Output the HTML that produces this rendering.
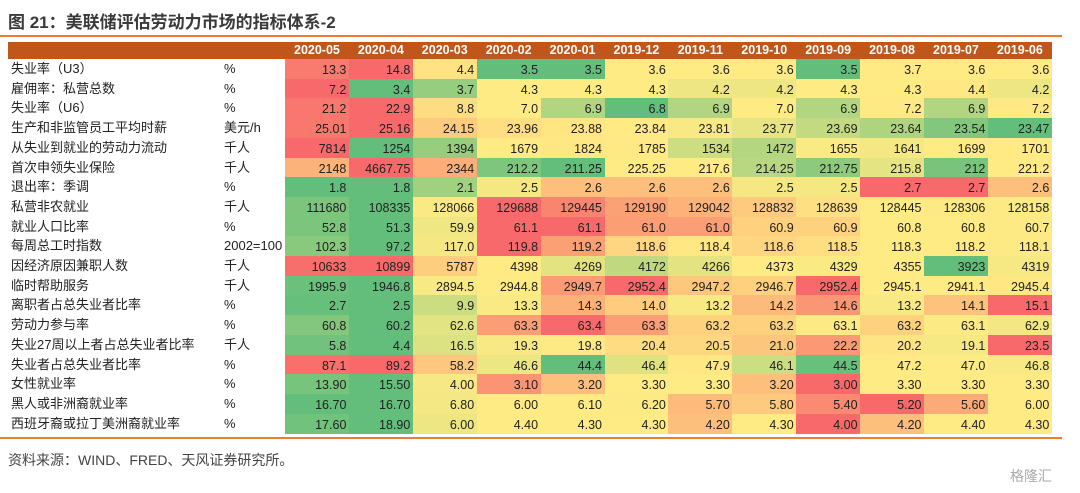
<!DOCTYPE html>
<html><head><meta charset="utf-8">
<style>
body{margin:0;width:1080px;height:493px;background:#fff;position:relative;overflow:hidden;font-family:"Liberation Sans","Noto Sans CJK SC",sans-serif;}
.a{position:absolute;}
#title{left:8px;top:8px;font-size:17px;font-weight:bold;color:#3a3a3a;}
.hl{left:0;width:1062px;height:2px;background:#ED7D31;}
#hdr{left:8px;top:42px;width:1044px;height:17px;background:#C0561A;}
.h{color:#fff;font-weight:bold;font-size:12.5px;top:42px;height:17px;line-height:17px;text-align:center;}
.lb{font-size:13px;color:#222;line-height:20px;white-space:nowrap;}
.c{font-size:12.5px;color:#222;text-align:right;box-sizing:border-box;padding-right:3px;line-height:22px;}
#src{left:8px;top:450px;font-size:14px;color:#444;}
#wm{left:1010px;top:466px;font-size:14px;color:#aaa;}
</style></head><body>
<div id="title" class="a">图 21：美联储评估劳动力市场的指标体系-2</div>
<div class="a hl" style="top:35px"></div>
<div id="hdr" class="a"></div>
<div id="tbl"></div>
<div class="a hl" style="top:437px"></div>
<div id="src" class="a">资料来源：WIND、FRED、天风证券研究所。</div>
<div id="wm" class="a">格隆汇</div>
<script>
const months=["2020-05","2020-04","2020-03","2020-02","2020-01","2019-12","2019-11","2019-10","2019-09","2019-08","2019-07","2019-06"];
const labels=["失业率（U3）","雇佣率：私营总数","失业率（U6）","生产和非监管员工平均时薪","从失业到就业的劳动力流动","首次申领失业保险","退出率：季调","私营非农就业","就业人口比率","每周总工时指数","因经济原因兼职人数","临时帮助服务","离职者占总失业者比率","劳动力参与率","失业27周以上者占总失业者比率","失业者占总失业者比率","女性就业率","黑人或非洲裔就业率","西班牙裔或拉丁美洲裔就业率"];
const units=["%","%","%","美元/h","千人","千人","%","千人","%","2002=100","千人","千人","%","%","千人","%","%","%","%"];
const reversed=[0,0,0,0,0,0,0,0,0,0,0,0,0,0,0,0,1,1,1];
const r0=["13.3","14.8","4.4","3.5","3.5","3.6","3.6","3.6","3.5","3.7","3.6","3.6"];
const r1=["7.2","3.4","3.7","4.3","4.3","4.3","4.2","4.2","4.3","4.3","4.4","4.2"];
const r2=["21.2","22.9","8.8","7.0","6.9","6.8","6.9","7.0","6.9","7.2","6.9","7.2"];
const r3=["25.01","25.16","24.15","23.96","23.88","23.84","23.81","23.77","23.69","23.64","23.54","23.47"];
const r4=["7814","1254","1394","1679","1824","1785","1534","1472","1655","1641","1699","1701"];
const r5=["2148","4667.75","2344","212.2","211.25","225.25","217.6","214.25","212.75","215.8","212","221.2"];
const r6=["1.8","1.8","2.1","2.5","2.6","2.6","2.6","2.5","2.5","2.7","2.7","2.6"];
const r7=["111680","108335","128066","129688","129445","129190","129042","128832","128639","128445","128306","128158"];
const r8=["52.8","51.3","59.9","61.1","61.1","61.0","61.0","60.9","60.9","60.8","60.8","60.7"];
const r9=["102.3","97.2","117.0","119.8","119.2","118.6","118.4","118.6","118.5","118.3","118.2","118.1"];
const r10=["10633","10899","5787","4398","4269","4172","4266","4373","4329","4355","3923","4319"];
const r11=["1995.9","1946.8","2894.5","2944.8","2949.7","2952.4","2947.2","2946.7","2952.4","2945.1","2941.1","2945.4"];
const r12=["2.7","2.5","9.9","13.3","14.3","14.0","13.2","14.2","14.6","13.2","14.1","15.1"];
const r13=["60.8","60.2","62.6","63.3","63.4","63.3","63.2","63.2","63.1","63.2","63.1","62.9"];
const r14=["5.8","4.4","16.5","19.3","19.8","20.4","20.5","21.0","22.2","20.2","19.1","23.5"];
const r15=["87.1","89.2","58.2","46.6","44.4","46.4","47.9","46.1","44.5","47.2","47.0","46.8"];
const r16=["13.90","15.50","4.00","3.10","3.20","3.30","3.30","3.20","3.00","3.30","3.30","3.30"];
const r17=["16.70","16.70","6.80","6.00","6.10","6.20","5.70","5.80","5.40","5.20","5.60","6.00"];
const r18=["17.60","18.90","6.00","4.40","4.30","4.30","4.20","4.30","4.00","4.20","4.40","4.30"];
const rows=[r0,r1,r2,r3,r4,r5,r6,r7,r8,r9,r10,r11,r12,r13,r14,r15,r16,r17,r18];

const X0=285,CW=63.9,Y0=59,RH=19.7;
const RED=[248,105,107],YEL=[255,235,132],GRN=[99,190,123];
function mix(a,b,t){return 'rgb('+a.map((v,i)=>Math.round(v+(b[i]-v)*t)).join(',')+')';}
function median(arr){const s=[...arr].sort((a,b)=>a-b);const n=s.length;return n%2?s[(n-1)/2]:(s[n/2-1]+s[n/2])/2;}
function colorFor(v,vals,rev){
  const mn=Math.min(...vals),mx=Math.max(...vals),md=median(vals);
  const hi=rev?GRN:RED, lo=rev?RED:GRN;
  if(v>=md){return mx===md?mix(YEL,YEL,0):mix(YEL,hi,(v-md)/(mx-md));}
  return mix(YEL,lo,(md-v)/(md-mn));
}
const body=document.body;
months.forEach((m,j)=>{
  const d=document.createElement('div');
  d.className='a h';d.style.left=(X0+j*CW)+'px';d.style.width=CW+'px';d.textContent=m;
  
  
  body.appendChild(d);
});
rows.forEach((row,i)=>{
  const y=Y0+i*RH;
  const l=document.createElement('div');
  l.className='a lb';l.style.left='11px';l.style.top=y+'px';l.textContent=labels[i];
  
  
  body.appendChild(l);
  const u=document.createElement('div');
  u.className='a lb';u.style.left='224px';u.style.top=y+'px';u.textContent=units[i];
  
  
  body.appendChild(u);
  const vals=row.map(parseFloat);
  row.forEach((s,j)=>{
    const c=document.createElement('div');
    c.className='a c';
    c.style.left=(X0+j*CW)+'px';c.style.top=y+'px';
    c.style.width=(CW+0.5)+'px';c.style.height=(RH+0.5)+'px';
    c.style.background=colorFor(vals[j],vals,reversed[i]);
    c.textContent=s;
    
    
    body.appendChild(c);
  });
});
</script>
</body></html>
